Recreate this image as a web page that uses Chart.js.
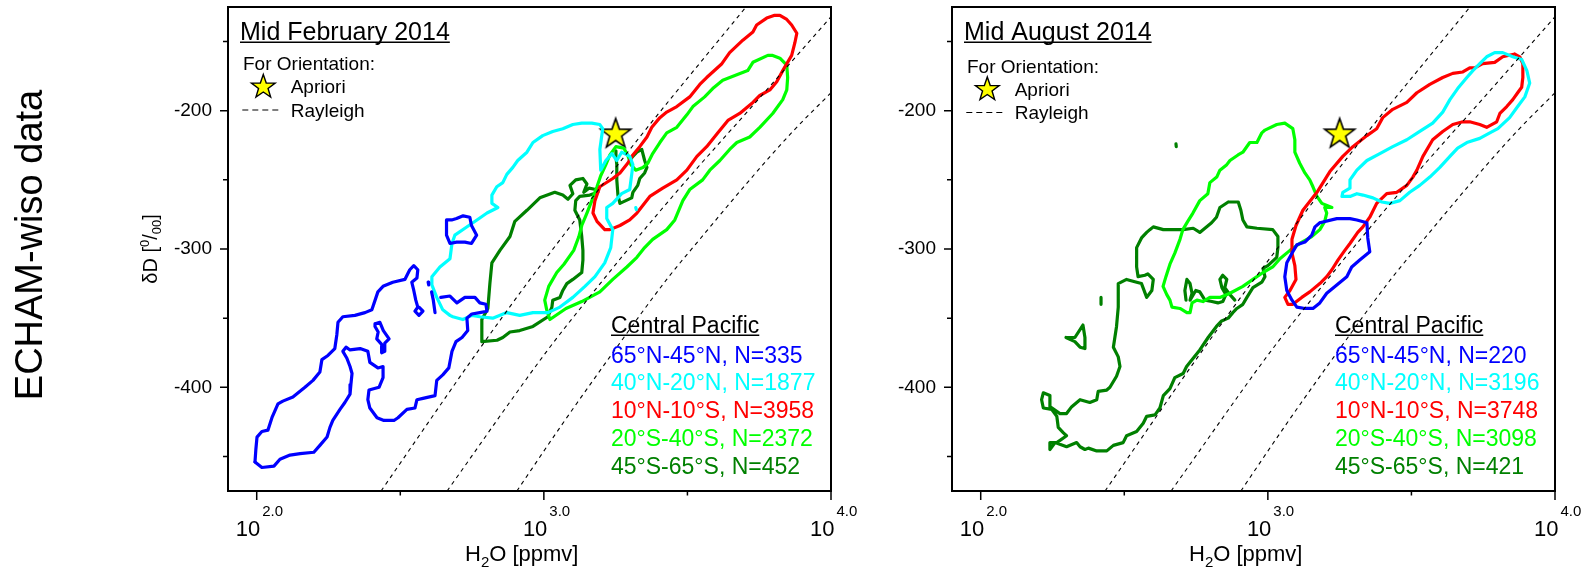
<!DOCTYPE html>
<html>
<head>
<meta charset="utf-8">
<script src="https://cdn.jsdelivr.net/npm/chart.js@4.4.1/dist/chart.umd.min.js"></script>
<style>
  html, body { margin: 0; padding: 0; background: #fff; width: 1585px; height: 570px; overflow: hidden; }
  #feb { position: absolute; left: 0; top: 0; }
  #aug { position: absolute; left: 850px; top: 0; }
</style>
</head>
<body>
<canvas id="feb" width="880" height="570"></canvas>
<canvas id="aug" width="735" height="570"></canvas>
<script>
// ---- axis ticks ----
const H2O_MAJOR_EXP = [2.0, 3.0, 4.0];      // labelled as 10^2.0 ... 10^4.0
const H2O_MINOR_EXP = [2.5, 3.5];
const DD_LABELED = [-400, -300, -200];
const DD_MINOR = [-450, -350, -250, -150];

// ---- legend ----
const REGIONS = ['65°N-45°N', '40°N-20°N', '10°N-10°S', '20°S-40°S', '45°S-65°S'];
const REGION_COLORS = ['#0000ff', '#00ffff', '#ff0000', '#00ff00', '#008000'];
const N_FEB = [335, 1877, 3958, 2372, 452];
const N_AUG = [220, 3196, 3748, 3098, 421];

// a priori state: [log10 H2O (ppmv), deltaD (permil)]
const APRIORI = [3.25, -217];

// Rayleigh curves, [log10 H2O, deltaD]
const RAYLEIGH_A = [[2.433, -475], [2.770, -374], [2.941, -325], [3.150, -268], [3.334, -219], [3.700, -126]];
const RAYLEIGH_B = [[2.663, -475], [3.010, -374], [3.150, -337], [3.310, -296], [3.498, -250], [3.776, -185], [4.0, -132]];
const RAYLEIGH_C = [[2.906, -475], [3.063, -427], [3.230, -378], [3.428, -322], [3.543, -293], [3.717, -250], [3.867, -215], [4.0, -187]];

// ---- Mid February 2014 contours, [log10 H2O, deltaD] ----
const FEB_N65_A = [[1.994,-454],[1.997,-445],[2.001,-436],[2.018,-432],[2.039,-431],[2.053,-422],[2.074,-412],[2.091,-410],[2.126,-407],[2.168,-400],[2.196,-395],[2.220,-389],[2.227,-380],[2.248,-377],[2.272,-372],[2.279,-362],[2.283,-353],[2.300,-349],[2.342,-348],[2.377,-346],[2.401,-344],[2.422,-331],[2.440,-327],[2.474,-324],[2.516,-322],[2.533,-315],[2.547,-312],[2.561,-315],[2.558,-321],[2.540,-324],[2.547,-330],[2.554,-337],[2.561,-342],[2.551,-345],[2.565,-348],[2.579,-345],[2.565,-342]];
const FEB_N65_B = [[2.641,-335],[2.673,-334],[2.697,-339],[2.725,-335],[2.760,-335],[2.777,-339],[2.798,-340],[2.802,-345],[2.777,-346],[2.749,-347],[2.732,-350],[2.735,-359],[2.715,-364],[2.694,-367],[2.680,-374],[2.669,-386],[2.648,-391],[2.627,-395],[2.621,-406],[2.579,-408],[2.558,-409],[2.551,-415],[2.523,-416],[2.492,-422],[2.478,-424],[2.443,-424],[2.419,-422],[2.394,-415],[2.387,-409],[2.391,-402],[2.426,-400],[2.440,-393],[2.440,-385],[2.422,-386],[2.394,-382],[2.387,-374],[2.360,-372],[2.325,-373],[2.311,-371],[2.300,-374],[2.314,-379],[2.325,-385],[2.332,-390],[2.328,-398],[2.325,-405],[2.307,-411],[2.290,-416],[2.265,-424],[2.255,-429],[2.245,-436],[2.220,-442],[2.199,-447],[2.151,-448],[2.116,-449],[2.081,-452],[2.060,-457],[2.018,-458],[1.994,-454]];
const FEB_N65_STEM = [[2.609,-331],[2.615,-337],[2.621,-346]];
const FEB_N65_DOT = [[2.597,-324],[2.599,-326]];
const FEB_N65_HOLE = [[2.412,-354],[2.429,-353],[2.441,-359],[2.461,-365],[2.446,-368],[2.446,-374],[2.435,-375],[2.435,-369],[2.418,-365],[2.423,-360],[2.412,-356],[2.412,-354]];
const FEB_N65_ISLE = [[2.661,-279],[2.679,-279],[2.696,-278],[2.719,-276],[2.742,-277],[2.748,-283],[2.766,-290],[2.748,-296],[2.725,-295],[2.696,-295],[2.673,-296],[2.661,-290],[2.661,-284],[2.661,-279]];

const FEB_N40 = [[2.673,-348],[2.648,-344],[2.627,-335],[2.610,-326],[2.610,-320],[2.638,-313],[2.673,-307],[2.680,-296],[2.690,-290],[2.725,-285],[2.767,-279],[2.802,-274],[2.840,-270],[2.819,-267],[2.819,-261],[2.836,-255],[2.857,-252],[2.871,-246],[2.892,-241],[2.909,-236],[2.941,-230],[2.962,-223],[2.996,-218],[3.031,-215],[3.066,-213],[3.101,-210],[3.132,-209],[3.167,-209],[3.195,-210],[3.205,-213],[3.195,-228],[3.198,-243],[3.216,-236],[3.237,-231],[3.254,-236],[3.271,-230],[3.299,-233],[3.310,-239],[3.306,-246],[3.299,-257],[3.271,-260],[3.240,-267],[3.219,-270],[3.219,-278],[3.240,-286],[3.233,-299],[3.212,-310],[3.178,-320],[3.143,-327],[3.101,-335],[3.056,-342],[3.014,-346],[2.996,-346],[2.962,-346],[2.916,-348],[2.871,-346],[2.822,-350],[2.777,-349],[2.749,-348],[2.718,-351],[2.683,-349],[2.673,-348]];
const FEB_N40_DOT = [[3.320,-270],[3.322,-271.5]];

const FEB_EQ = [[3.804,-131],[3.776,-133],[3.741,-138],[3.728,-143],[3.693,-149],[3.647,-158],[3.620,-166],[3.567,-176],[3.543,-181],[3.508,-190],[3.463,-197],[3.428,-201],[3.404,-205],[3.376,-212],[3.359,-219],[3.334,-226],[3.310,-232],[3.292,-238],[3.265,-245],[3.240,-249],[3.195,-255],[3.178,-265],[3.171,-274],[3.185,-280],[3.212,-286],[3.230,-286],[3.265,-283],[3.299,-279],[3.324,-274],[3.369,-262],[3.414,-256],[3.463,-250],[3.498,-243],[3.533,-233],[3.567,-226],[3.606,-216],[3.641,-207],[3.682,-202],[3.728,-194],[3.752,-189],[3.787,-185],[3.811,-179],[3.832,-171],[3.863,-160],[3.874,-151],[3.881,-144],[3.863,-138],[3.846,-134],[3.822,-131],[3.804,-131]];

const FEB_S20 = [[3.780,-160],[3.728,-165],[3.710,-171],[3.672,-174],[3.623,-178],[3.588,-184],[3.560,-190],[3.519,-197],[3.498,-203],[3.463,-212],[3.428,-216],[3.404,-223],[3.379,-231],[3.362,-238],[3.345,-241],[3.320,-243],[3.303,-239],[3.292,-232],[3.278,-227],[3.251,-226],[3.230,-232],[3.216,-239],[3.198,-247],[3.185,-255],[3.167,-265],[3.150,-274],[3.132,-283],[3.122,-291],[3.104,-301],[3.070,-311],[3.045,-317],[3.017,-327],[3.003,-337],[3.010,-344],[3.021,-351],[3.077,-343],[3.132,-338],[3.195,-331],[3.240,-322],[3.289,-313],[3.324,-306],[3.351,-299],[3.379,-293],[3.428,-286],[3.456,-279],[3.484,-265],[3.508,-257],[3.553,-250],[3.578,-243],[3.613,-236],[3.647,-228],[3.672,-223],[3.717,-219],[3.752,-212],[3.797,-202],[3.832,-192],[3.846,-185],[3.849,-176],[3.846,-167],[3.822,-162],[3.797,-160],[3.780,-160]];

const FEB_S45 = [[2.784,-367],[2.784,-351],[2.805,-343],[2.812,-325],[2.819,-310],[2.847,-301],[2.882,-291],[2.899,-280],[2.941,-272],[2.986,-263],[3.038,-259],[3.066,-261],[3.084,-264],[3.101,-260],[3.091,-254],[3.111,-250],[3.136,-249],[3.150,-253],[3.139,-259],[3.157,-256],[3.181,-257],[3.188,-259],[3.160,-261],[3.125,-262],[3.111,-265],[3.108,-272],[3.125,-279],[3.132,-291],[3.136,-301],[3.136,-308],[3.132,-317],[3.101,-322],[3.080,-325],[3.066,-330],[3.056,-335],[3.031,-337],[3.028,-342],[3.014,-349],[2.962,-356],[2.916,-359],[2.882,-360],[2.857,-364],[2.837,-366],[2.784,-367]];
const FEB_S45_ARM = [[3.251,-229],[3.251,-233],[3.254,-239],[3.254,-250],[3.258,-261],[3.265,-267],[3.306,-263],[3.310,-259],[3.327,-254],[3.334,-249],[3.351,-245],[3.359,-241],[3.351,-236],[3.341,-228],[3.324,-230],[3.310,-233],[3.299,-236]];

// ---- Mid August 2014 contours, [log10 H2O, deltaD] ----
const AUG_N65 = [[3.181,-281],[3.240,-278],[3.286,-278],[3.310,-279],[3.345,-281],[3.348,-292],[3.355,-302],[3.320,-308],[3.292,-313],[3.275,-320],[3.240,-326],[3.205,-332],[3.181,-339],[3.157,-343],[3.129,-343],[3.101,-342],[3.084,-337],[3.066,-330],[3.059,-320],[3.066,-310],[3.084,-303],[3.101,-297],[3.129,-295],[3.153,-290],[3.164,-284],[3.181,-281]];

const AUG_N40 = [[3.818,-158],[3.853,-161],[3.884,-163],[3.902,-171],[3.912,-180],[3.895,-190],[3.870,-197],[3.842,-205],[3.801,-213],[3.773,-216],[3.738,-220],[3.693,-223],[3.661,-227],[3.634,-233],[3.599,-241],[3.564,-248],[3.529,-254],[3.494,-259],[3.460,-265],[3.425,-267],[3.397,-266],[3.366,-263],[3.331,-261],[3.310,-260],[3.286,-262],[3.258,-262],[3.261,-259],[3.286,-256],[3.286,-250],[3.310,-243],[3.345,-236],[3.390,-231],[3.435,-226],[3.484,-221],[3.529,-215],[3.574,-209],[3.609,-201],[3.634,-192],[3.661,-184],[3.693,-176],[3.714,-171],[3.738,-166],[3.762,-161],[3.790,-158],[3.818,-158]];

const AUG_EQ = [[3.860,-159],[3.818,-161],[3.790,-165],[3.748,-166],[3.721,-169],[3.703,-169],[3.679,-172],[3.644,-173],[3.609,-176],[3.564,-181],[3.519,-187],[3.484,-194],[3.435,-199],[3.400,-205],[3.379,-213],[3.345,-218],[3.296,-226],[3.261,-233],[3.216,-244],[3.171,-259],[3.122,-272],[3.098,-283],[3.084,-293],[3.084,-303],[3.094,-312],[3.098,-322],[3.077,-330],[3.059,-335],[3.070,-340],[3.087,-340],[3.118,-335],[3.146,-331],[3.181,-325],[3.205,-320],[3.223,-315],[3.244,-308],[3.268,-301],[3.286,-296],[3.313,-288],[3.331,-284],[3.355,-277],[3.379,-267],[3.414,-260],[3.449,-259],[3.484,-254],[3.505,-248],[3.519,-243],[3.540,-233],[3.574,-221],[3.609,-215],[3.644,-210],[3.679,-208],[3.703,-208],[3.738,-210],[3.762,-212],[3.797,-208],[3.808,-202],[3.832,-197],[3.853,-192],[3.870,-187],[3.884,-183],[3.888,-176],[3.888,-166],[3.877,-161],[3.860,-159]];

const AUG_S20 = [[3.059,-209],[3.031,-210],[2.990,-214],[2.979,-216],[2.962,-223],[2.937,-223],[2.913,-230],[2.896,-232],[2.868,-236],[2.857,-239],[2.833,-243],[2.822,-248],[2.798,-252],[2.791,-260],[2.763,-265],[2.739,-274],[2.721,-280],[2.704,-286],[2.694,-293],[2.676,-303],[2.659,-311],[2.645,-320],[2.635,-327],[2.648,-333],[2.659,-337],[2.666,-342],[2.694,-343],[2.718,-346],[2.729,-346],[2.736,-339],[2.753,-337],[2.774,-338],[2.798,-335],[2.833,-335],[2.868,-332],[2.913,-327],[2.948,-322],[2.983,-317],[3.017,-313],[3.042,-307],[3.077,-301],[3.111,-296],[3.153,-291],[3.181,-286],[3.198,-280],[3.205,-274],[3.198,-270],[3.223,-270],[3.188,-267],[3.171,-262],[3.157,-255],[3.146,-250],[3.129,-245],[3.111,-238],[3.094,-230],[3.094,-221],[3.087,-213],[3.059,-209]];

const AUG_S45 = [[2.862,-266],[2.897,-266],[2.906,-272],[2.913,-279],[2.927,-284],[2.962,-285],[3.017,-286],[3.035,-291],[3.035,-299],[3.031,-306],[3.000,-312],[2.983,-314],[2.990,-320],[2.979,-324],[2.948,-328],[2.927,-335],[2.913,-340],[2.892,-343],[2.878,-346],[2.862,-350],[2.839,-352],[2.821,-356],[2.792,-364],[2.763,-373],[2.740,-379],[2.717,-385],[2.705,-390],[2.676,-393],[2.659,-401],[2.636,-406],[2.624,-415],[2.607,-420],[2.578,-421],[2.566,-426],[2.543,-432],[2.508,-435],[2.496,-440],[2.462,-442],[2.439,-446],[2.404,-446],[2.375,-444],[2.363,-445],[2.346,-443],[2.334,-440],[2.299,-443],[2.259,-440],[2.241,-445],[2.241,-440],[2.265,-440],[2.299,-435],[2.288,-433],[2.270,-429],[2.265,-421],[2.247,-416],[2.218,-415],[2.212,-409],[2.218,-404],[2.241,-406],[2.241,-414],[2.276,-419],[2.299,-419],[2.317,-414],[2.346,-409],[2.380,-411],[2.404,-409],[2.409,-403],[2.439,-402],[2.450,-400],[2.473,-392],[2.485,-385],[2.479,-378],[2.462,-371],[2.473,-356],[2.479,-342],[2.479,-325],[2.508,-322],[2.543,-324],[2.560,-325],[2.578,-335],[2.596,-330],[2.601,-322],[2.582,-318],[2.572,-319],[2.548,-320],[2.543,-313],[2.543,-299],[2.560,-292],[2.578,-288],[2.589,-286],[2.601,-284],[2.636,-286],[2.665,-286],[2.705,-286],[2.740,-285],[2.763,-288],[2.804,-281],[2.821,-277],[2.833,-270],[2.862,-266]];
const AUG_S45_KNOTS = [[2.715,-337],[2.711,-330],[2.718,-322],[2.729,-325],[2.736,-332],[2.729,-337],[2.749,-330],[2.763,-331],[2.781,-337],[2.805,-338],[2.826,-339],[2.843,-338],[2.854,-333],[2.840,-328],[2.833,-322],[2.843,-319],[2.857,-322],[2.850,-328],[2.868,-333],[2.885,-337]];
const AUG_S45_TICK = [[2.419,-335],[2.419,-340]];
const AUG_S45_ISLE = [[2.297,-364],[2.328,-364],[2.356,-355],[2.363,-364],[2.363,-372],[2.346,-371],[2.328,-367],[2.297,-364]];
const AUG_S45_DOT = [[2.680,-224],[2.681,-226]];

// ---------------------------------------------------------------------
const FONT = "'Liberation Sans', Arial, Helvetica, sans-serif";

function drawStar(g, cx, cy, R, lw) {
  const r = R * 0.4;
  g.beginPath();
  for (let i = 0; i < 10; i++) {
    const ang = -Math.PI / 2 + i * Math.PI / 5;
    const rad = i % 2 ? r : R;
    g.lineTo(cx + rad * Math.cos(ang), cy + rad * Math.sin(ang));
  }
  g.closePath();
  g.fillStyle = '#ffff00';
  g.fill();
  g.lineWidth = lw;
  g.strokeStyle = '#000';
  g.lineJoin = 'miter';
  g.stroke();
}

function starImage(R) {
  const size = Math.ceil(2 * R + 12);
  const c = document.createElement('canvas');
  c.width = c.height = size;
  drawStar(c.getContext('2d'), size / 2, size / 2, R, 1.6);
  return c;
}

const toPts = arr => arr.map(([e, d]) => ({ x: Math.pow(10, e), y: d }));

function lineDS(arr, color, width, extra) {
  return Object.assign({
    data: toPts(arr), showLine: true, borderColor: color, borderWidth: width,
    pointRadius: 0, pointHoverRadius: 0, fill: false, tension: 0,
    borderJoinStyle: 'round', borderCapStyle: 'round'
  }, extra || {});
}

// axes frame, ticks, labels, titles and legends
const decoPlugin = {
  id: 'deco',
  afterDraw(chart, _args, o) {
    const { ctx, chartArea: a, scales: { x, y } } = chart;
    ctx.save();
    ctx.fillStyle = '#000';
    ctx.strokeStyle = '#000';
    ctx.setLineDash([]);

    ctx.lineWidth = 2;
    ctx.strokeRect(a.left, a.top, a.right - a.left, a.bottom - a.top);

    ctx.lineWidth = 1.5;
    ctx.beginPath();
    H2O_MAJOR_EXP.forEach(e => { const p = x.getPixelForValue(Math.pow(10, e)); ctx.moveTo(p, a.bottom); ctx.lineTo(p, a.bottom + 9); });
    H2O_MINOR_EXP.forEach(e => { const p = x.getPixelForValue(Math.pow(10, e)); ctx.moveTo(p, a.bottom); ctx.lineTo(p, a.bottom + 4.5); });
    DD_LABELED.forEach(v => { const p = y.getPixelForValue(v); ctx.moveTo(a.left - 8, p); ctx.lineTo(a.left, p); });
    DD_MINOR.forEach(v => { const p = y.getPixelForValue(v); ctx.moveTo(a.left - 5, p); ctx.lineTo(a.left, p); });
    ctx.stroke();

    // 10^e tick labels
    ctx.textBaseline = 'alphabetic';
    H2O_MAJOR_EXP.forEach(e => {
      const p = x.getPixelForValue(Math.pow(10, e));
      ctx.font = `22px ${FONT}`;
      ctx.textAlign = 'right';
      ctx.fillText('10', p + 3.5, a.bottom + 45);
      ctx.font = `15px ${FONT}`;
      ctx.textAlign = 'left';
      ctx.fillText(e.toFixed(1), p + 5.5, a.bottom + 25);
    });

    // x axis title
    ctx.textAlign = 'left';
    let tx = a.left + 237;
    const tb = a.bottom + 70;
    ctx.font = `22px ${FONT}`;
    ctx.fillText('H', tx, tb); tx += ctx.measureText('H').width;
    ctx.font = `15px ${FONT}`;
    ctx.fillText('2', tx, tb + 6); tx += ctx.measureText('2').width;
    ctx.font = `22px ${FONT}`;
    ctx.fillText('O [ppmv]', tx, tb);

    // panel title
    ctx.font = `25px ${FONT}`;
    const ttX = a.left + 12, ttY = a.top + 32.5;
    ctx.fillText(o.title, ttX, ttY);
    ctx.fillRect(ttX, ttY + 2, ctx.measureText(o.title).width, 1.5);

    // orientation legend
    const s = o.shift;
    ctx.font = `19px ${FONT}`;
    ctx.fillText('For Orientation:', a.left + 15, a.top + 63 + s);
    drawStar(ctx, a.left + 35.3, a.top + 80 + s, 12.5, 1.4);
    ctx.fillStyle = '#000';
    ctx.fillText('Apriori', a.left + 62.7, a.top + 86.3 + s);
    ctx.beginPath();
    ctx.setLineDash([6, 4]);
    ctx.lineWidth = 1.2;
    ctx.moveTo(a.left + 14.3, a.top + 103 + s);
    ctx.lineTo(a.left + 53, a.top + 103 + s);
    ctx.stroke();
    ctx.setLineDash([]);
    ctx.fillText('Rayleigh', a.left + 62.7, a.top + 109.7 + s);

    // region legend
    ctx.font = `23px ${FONT}`;
    const lx = a.left + 383;
    ctx.fillText('Central Pacific', lx, a.top + 325.7);
    ctx.fillRect(lx, a.top + 327.5, ctx.measureText('Central Pacific').width, 1.5);
    REGIONS.forEach((r, i) => {
      ctx.fillStyle = REGION_COLORS[i];
      ctx.fillText(`${r}, N=${o.counts[i]}`, lx, a.top + 355.5 + 27.8 * i);
    });
    ctx.fillStyle = '#000';

    if (o.sideTitles) {
      // y axis title: deltaD [permil]
      const parts = [['\u03b4D [', 20, 0], ['0', 13, -8], ['/', 20, 0], ['00', 13, 4], [']', 20, 0]];
      let total = 0;
      parts.forEach(([t, f]) => { ctx.font = `${f}px ${FONT}`; total += ctx.measureText(t).width; });
      ctx.save();
      ctx.translate(157, 249);
      ctx.rotate(-Math.PI / 2);
      let px = -total / 2;
      parts.forEach(([t, f, dy]) => {
        ctx.font = `${f}px ${FONT}`;
        ctx.fillText(t, px, dy);
        px += ctx.measureText(t).width;
      });
      ctx.restore();

      ctx.save();
      ctx.translate(41.5, 245);
      ctx.rotate(-Math.PI / 2);
      ctx.font = `38px ${FONT}`;
      ctx.textAlign = 'center';
      ctx.fillText('ECHAM-wiso data', 0, 0);
      ctx.restore();
    }
    ctx.restore();
  }
};

const STAR = starImage(15.8);

function buildPanel(id, cfg) {
  const datasets = [];
  [RAYLEIGH_A, RAYLEIGH_B, RAYLEIGH_C].forEach(r =>
    datasets.push(lineDS(r, '#000', 1.1, { borderDash: [4, 4], borderCapStyle: 'butt', cubicInterpolationMode: 'monotone' })));
  cfg.contours.forEach((pieces, i) =>
    pieces.forEach(p => datasets.push(lineDS(p, REGION_COLORS[i], 3.2))));
  // star marker: the image sets its size, the small radius keeps the layout unpadded
  datasets.push({ data: toPts([APRIORI]), showLine: false, pointStyle: STAR, pointRadius: 1, pointHoverRadius: 1, pointBorderWidth: 0 });

  return new Chart(document.getElementById(id), {
    type: 'scatter',
    data: { datasets },
    options: {
      responsive: false,
      animation: false,
      devicePixelRatio: 1,
      events: [],
      layout: { padding: { left: cfg.padLeft, right: cfg.padRight, top: 7, bottom: 19 } },
      plugins: {
        legend: { display: false },
        tooltip: { enabled: false },
        deco: { title: cfg.title, counts: cfg.counts, shift: cfg.shift, sideTitles: cfg.sideTitles }
      },
      scales: {
        x: {
          type: 'logarithmic', min: Math.pow(10, 1.9), max: 1e4,
          grid: { display: false, drawTicks: false }, border: { display: false },
          ticks: { display: false },
          afterFit: s => { s.height = 60; s.paddingLeft = 0; s.paddingRight = 0; }
        },
        y: {
          type: 'linear', min: -475, max: -125,
          grid: { display: false, drawTicks: false }, border: { display: false },
          ticks: {
            color: '#000', padding: 16, autoSkip: false, font: { family: FONT, size: 19 },
            callback: v => DD_LABELED.includes(v) ? String(v) : ''
          },
          afterBuildTicks: s => { s.ticks = [-450, -400, -350, -300, -250, -200, -150].map(v => ({ value: v })); },
          afterFit: s => { s.width = 60; s.paddingTop = 0; s.paddingBottom = 0; }
        }
      }
    },
    plugins: [decoPlugin]
  });
}

buildPanel('feb', {
  title: 'Mid February 2014', counts: N_FEB, shift: 0, sideTitles: true, padLeft: 168, padRight: 49,
  contours: [
    [FEB_N65_A, FEB_N65_B, FEB_N65_STEM, FEB_N65_DOT, FEB_N65_HOLE, FEB_N65_ISLE],
    [FEB_N40, FEB_N40_DOT],
    [FEB_EQ],
    [FEB_S20],
    [FEB_S45, FEB_S45_ARM]
  ]
});

buildPanel('aug', {
  title: 'Mid August 2014', counts: N_AUG, shift: 2.5, sideTitles: false, padLeft: 42, padRight: 30,
  contours: [
    [AUG_N65],
    [AUG_N40],
    [AUG_EQ],
    [AUG_S20],
    [AUG_S45, AUG_S45_KNOTS, AUG_S45_TICK, AUG_S45_ISLE, AUG_S45_DOT]
  ]
});
</script>
</body>
</html>
